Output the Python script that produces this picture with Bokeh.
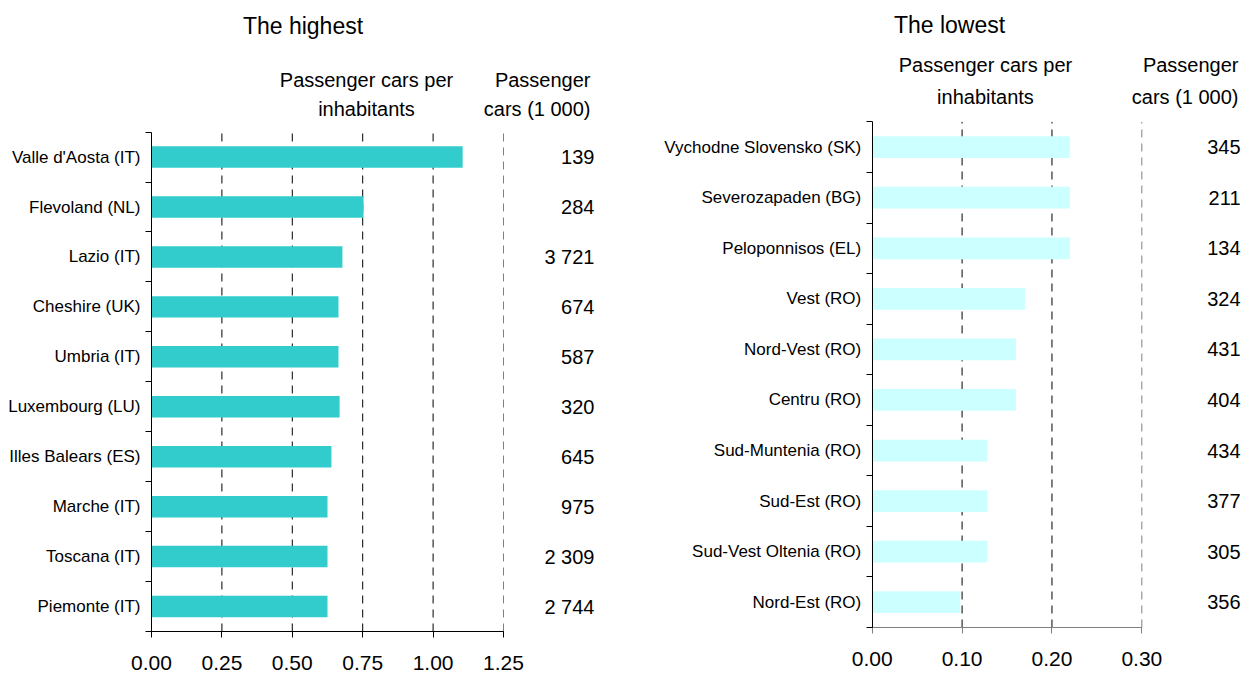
from bokeh.plotting import figure
from bokeh.layouts import row
from bokeh.models import FixedTicker, ColumnDataSource
from bokeh.core.properties import value
from bokeh.embed import file_html
from bokeh.resources import INLINE

FONT = "Liberation Sans"

# ---------------- data ----------------
high_regions = ["Valle d'Aosta (IT)", "Flevoland (NL)", "Lazio (IT)", "Cheshire (UK)",
                "Umbria (IT)", "Luxembourg (LU)", "Illes Balears (ES)", "Marche (IT)",
                "Toscana (IT)", "Piemonte (IT)"]
high_per_inhab = [1.105, 0.753, 0.678, 0.664, 0.664, 0.668, 0.639, 0.625, 0.625, 0.625]
high_cars = [139, 284, 3721, 674, 587, 320, 645, 975, 2309, 2744]

low_regions = ["Vychodne Slovensko (SK)", "Severozapaden (BG)", "Peloponnisos (EL)",
               "Vest (RO)", "Nord-Vest (RO)", "Centru (RO)", "Sud-Muntenia (RO)",
               "Sud-Est (RO)", "Sud-Vest Oltenia (RO)", "Nord-Est (RO)"]
low_per_inhab = [0.22, 0.22, 0.22, 0.17, 0.16, 0.16, 0.128, 0.128, 0.128, 0.098]
low_cars = [345, 211, 134, 324, 431, 404, 434, 377, 305, 356]

high_ticks = [0.0, 0.25, 0.5, 0.75, 1.0, 1.25]
high_tick_labels = ["0.00", "0.25", "0.50", "0.75", "1.00", "1.25"]
low_ticks = [0.0, 0.1, 0.2, 0.3]
low_tick_labels = ["0.00", "0.10", "0.20", "0.30"]

titles = ["The highest", "The lowest"]
header1 = ["Passenger cars per", "inhabitants"]
header2 = ["Passenger", "cars (1 000)"]


def fmt(n):
    return f"{n:,}".replace(",", " ")


def panel(regions, vals, cars, ticks, tick_labels, title, *, width, height,
          x_start, x_end, y_start, y_end, bar_color,
          xaxis_color, title_pos, h1_x, h1_y, h2_x, num_x, last_grid_color, standoff):
    n = len(regions)
    rows = list(range(n - 1, -1, -1))  # first region at top
    p = figure(width=width, height=height, output_backend="svg",
               toolbar_location=None, x_range=(x_start, x_end), y_range=(y_start, y_end),
               min_border_left=0, min_border_right=0,
               min_border_top=0, min_border_bottom=0)
    p.outline_line_color = None
    p.xgrid.visible = False
    p.ygrid.visible = False
    p.background_fill_color = "white"

    # dashed grid lines at tick positions
    gx = [t for t in ticks if t > 0]
    gcol = ["#000000"] * (len(gx) - 1) + [last_grid_color]
    p.segment(x0=gx, x1=gx, y0=[-0.5] * len(gx), y1=[n - 0.5] * len(gx),
              line_color=gcol, line_width=1, line_dash="8 6")

    src = ColumnDataSource(dict(y=rows, v=vals, lab=[fmt(c) for c in cars]))
    p.hbar(y="y", left=0, right="v", height=0.43, source=src,
           fill_color=bar_color, line_color=None)
    p.text(x=num_x, y="y", text="lab", source=src, text_align="right",
           text_baseline="middle", text_font=value(FONT), text_font_size="20px",
           text_color="black")

    # headers
    p.text(x=[title_pos[0]], y=[title_pos[1]], text=[title], text_align="center",
           text_baseline="middle", text_font=value(FONT), text_font_size="23px",
           text_color="black")
    p.text(x=[h1_x, h1_x], y=h1_y, text=header1, text_align="center",
           text_baseline="middle", text_font=value(FONT), text_font_size="20px",
           text_color="black")
    p.text(x=[h2_x, h2_x], y=h1_y, text=header2, text_align="right",
           text_baseline="middle", text_font=value(FONT), text_font_size="20px",
           text_color="black")

    # x-axis baseline (axis range of the value scale)
    p.segment(x0=[ticks[0]], x1=[ticks[-1]], y0=[-0.5], y1=[-0.5],
              line_color=xaxis_color, line_width=1)

    # y axis: labels at row centres, ticks at boundaries
    ya = p.yaxis[0]
    ya.fixed_location = 0
    ya.ticker = FixedTicker(ticks=rows, minor_ticks=[i - 0.5 for i in range(n + 1)])
    ya.major_label_overrides = {r: lab for r, lab in zip(rows, regions)}
    ya.bounds = (-0.5, n - 0.5)
    ya.major_tick_out = 0
    ya.major_tick_in = 0
    ya.minor_tick_out = 6
    ya.minor_tick_in = 0
    ya.axis_line_color = "black"
    ya.axis_line_width = 1
    ya.minor_tick_line_color = "black"
    ya.major_label_standoff = 5
    ya.major_label_text_font = FONT
    ya.major_label_text_font_size = "17px"
    ya.major_label_text_color = "black"

    xa = p.xaxis[0]
    xa.fixed_location = -0.5
    xa.ticker = FixedTicker(ticks=ticks)
    xa.major_label_overrides = {t: l for t, l in zip(ticks, tick_labels)}
    xa.bounds = (0, ticks[-1])
    xa.major_tick_out = 6
    xa.major_tick_in = 0
    xa.minor_tick_out = 0
    xa.minor_tick_in = 0
    xa.axis_line_color = xaxis_color
    xa.axis_line_width = 1
    xa.major_tick_line_color = xaxis_color
    xa.major_label_standoff = standoff
    xa.major_label_text_font = FONT
    xa.major_label_text_font_size = "21px"
    xa.major_label_text_color = "black"
    return p


p1 = panel(high_regions, high_per_inhab, high_cars, high_ticks, high_tick_labels,
           titles[0], width=620, height=673,
           x_start=-0.5362, x_end=1.6655, y_start=-1.341, y_end=12.135,
           bar_color="#33CCCC", xaxis_color="black", title_pos=(0.538, 11.634),
           h1_x=0.7635, h1_y=[10.553, 9.953], h2_x=1.559, num_x=1.573,
           last_grid_color="#808080", standoff=19)

p2 = panel(low_regions, low_per_inhab, low_cars, low_ticks, low_tick_labels,
           titles[1], width=628, height=673,
           x_start=-0.2801, x_end=0.4187, y_start=-1.41, y_end=11.901,
           bar_color="#CCFFFF", xaxis_color="#808080", title_pos=(0.086, 11.407),
           h1_x=0.126, h1_y=[10.635, 10.002], h2_x=0.4076, num_x=0.4098,
           last_grid_color="#808080", standoff=19)

layout = row(p1, p2)
open("out.html", "w").write(file_html(layout, INLINE))
